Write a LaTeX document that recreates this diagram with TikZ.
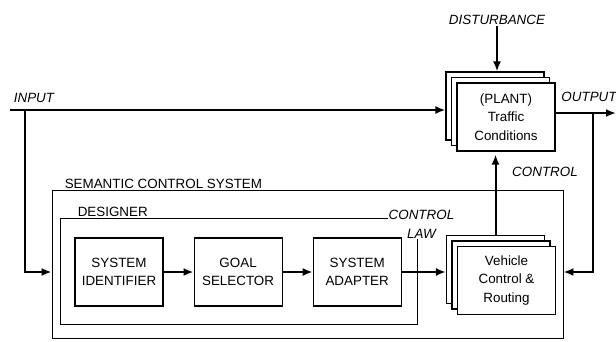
\documentclass[tikz,border=0pt]{standalone}
\usepackage{fontspec}
\setmainfont{Liberation Sans}
\usepackage{tikz}
\usetikzlibrary{arrows.meta,positioning}
\newcommand{\dfont}{\fontsize{13.4}{18.5}\selectfont}
\tikzset{
  nodebox/.style={draw,line width=1.1pt,minimum width=88pt,minimum height=68pt,align=center,inner sep=2pt},
  stackbox/.style={nodebox,fill=white,minimum width=98pt},
  frame/.style={draw,line width=0.9pt,inner sep=0pt},
  caption/.style={inner sep=1pt,anchor=south west},
  tag/.style={font=\dfont\itshape,inner sep=1pt},
  flow/.style={-{Latex[length=10pt,width=8pt]},line width=2pt}
}

\begin{document}
\begin{tikzpicture}[x=1pt,y=-1pt,node distance=30pt,every node/.append style={font=\dfont}]
\useasboundingbox (0,0) rectangle (616,341);
% frames
\node[frame,minimum width=511pt,minimum height=148pt] (scs) at (307.5,264) {};
\node[frame,minimum width=357pt,minimum height=106pt] (designer) at (238.5,271) {};
\node[caption] (scslabel) at ([xshift=12pt]scs.north west) {SEMANTIC CONTROL SYSTEM};
\node[caption] (deslabel) at ([xshift=17pt]designer.north west) {DESIGNER};
\node[tag,fill=white,align=center] (lawlabel) at ([xshift=4pt,yshift=-7pt]designer.north east) {CONTROL\\LAW};
% designer blocks
\node[nodebox] (ident) at (119,272) {SYSTEM\\IDENTIFIER};
\node[nodebox,right=of ident] (select) {GOAL\\SELECTOR};
\node[nodebox,right=of select] (adapter) {SYSTEM\\ADAPTER};
% stacks
\node[stackbox] (plantback) at (495,106) {};
\node[stackbox] (plantmid) at (500.5,111.5) {};
\node[stackbox] (plant) at (506,117) {(PLANT)\\Traffic\\Conditions};
\node[stackbox] (vehback) at (495.5,269.5) {};
\node[stackbox] (vehmid) at (501,275) {};
\node[stackbox] (vehicle) at (506.5,280.5) {Vehicle\\Control \&\\Routing};
% signal names
\node[tag] (input) at (34,98) {INPUT};
\node[tag] (output) at (589,97) {OUTPUT};
\node[tag] (dist) at (497,20) {DISTURBANCE};
\node[tag] (ctrl) at (545,172) {CONTROL};
\coordinate (src) at (10,110);
\coordinate (tap) at (25,110);
\coordinate (sink) at (616,113);
\coordinate (back) at (593,113);
% connectors
\draw[flow] (src) -- (src -| plantback.west);
\draw[flow] (tap) |- (scs.west |- ident.west);
\draw[flow] (plant.east |- sink) -- (sink);
\draw[flow] (back) |- (scs.east |- adapter.east);
\draw[flow] (dist) -- (dist |- plantback.north);
\draw[flow,shorten >=3pt] (vehback.north) -- (vehback.north |- plant.south);
\draw[flow] (ident) -- (select);
\draw[flow] (select) -- (adapter);
\draw[flow] (adapter) -- (adapter -| vehback.west);
\end{tikzpicture}
\end{document}
